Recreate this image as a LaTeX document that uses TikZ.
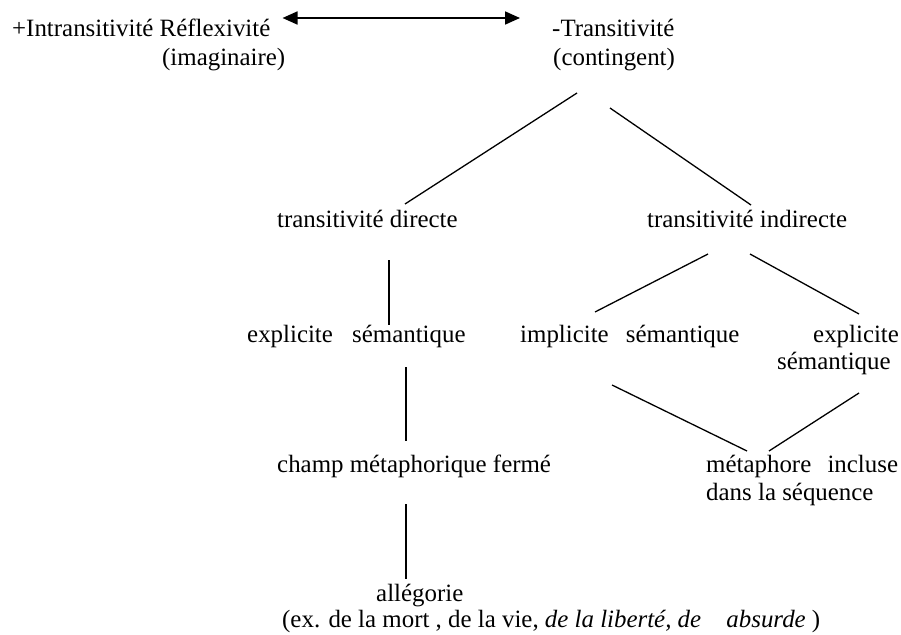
\documentclass[tikz,border=0pt]{standalone}
\usepackage{fontspec}
\setmainfont{Liberation Serif}
\usetikzlibrary{arrows.meta}

\begin{document}
\begin{tikzpicture}[x=1pt,y=-1pt,
  txt/.style={inner sep=0pt, anchor=base west, font=\fontsize{24.9}{27}\selectfont},
  link/.style={line width=1.3pt},
  dblarrow/.style={line width=1.8pt, {Triangle[length=15pt,width=13pt]}-{Triangle[length=15pt,width=13pt]}}]
\useasboundingbox (0,0) rectangle (901,634);
% top row
\node[txt] (intr) at (12,37) {+Intransitivité Réflexivité};
\node[txt] (imag) at (162,65) {(imaginaire)};
\node[txt] (trans) at (552,37) {-Transitivité};
\node[txt] (cont) at (553,65) {(contingent)};
% second and third rows
\node[txt] (tdir) at (277,227) {transitivité directe};
\node[txt] (tind) at (647,227) {transitivité indirecte};
\node[txt] (esem) at (247,342) {explicite\hspace{13pt} sémantique};
\node[txt] (isem) at (520,342) {implicite\hspace{11pt} sémantique};
\node[txt] (expl) at (813,342) {explicite};
\node[txt] (sem2) at (777,369) {sémantique};
% lower rows
\node[txt] (champ) at (277,472) {champ métaphorique fermé};
\node[txt] (meta) at (706,472) {métaphore\hspace{10pt} incluse};
\node[txt] (seq) at (706,500) {dans la séquence};
\node[txt] (alleg) at (376,601) {allégorie};
\node[txt] (ex) at (282,627) {(ex. de la mort , de la vie, \textit{de la liberté, de}\hspace{19pt} \textit{absurde} )};

\draw[dblarrow] ([shift={(12,-19)}]intr.base east) -- ([shift={(-32,-19)}]trans.base west);
\draw[link] ([shift={(24,28)}]cont.base west) -- ([shift={(128,-23)}]tdir.base west);
\draw[link] ([shift={(57,43)}]cont.base west) -- ([shift={(104,-22)}]tind.base west);
\draw[link] ([shift={(112,33)}]tdir.base west) -- ([shift={(142,-17)}]esem.base west);
\draw[link] ([shift={(61,27)}]tind.base west) -- ([shift={(75,-30)}]isem.base west);
\draw[link] ([shift={(103,27)}]tind.base west) -- ([shift={(46,-28)}]expl.base west);
\draw[link] ([shift={(159,25)}]esem.base west) -- ([shift={(129,-31)}]champ.base west);
\draw[link] ([shift={(92,43)}]isem.base west) -- ([shift={(41,-21)}]meta.base west);
\draw[link] ([shift={(82,24)}]sem2.base west) -- ([shift={(63,-21)}]meta.base west);
\draw[link] ([shift={(129,32)}]champ.base west) -- ([shift={(30,-22)}]alleg.base west);
\end{tikzpicture}
\end{document}
